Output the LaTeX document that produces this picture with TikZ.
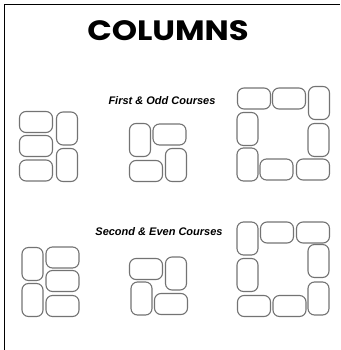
\documentclass[tikz,border=0pt]{standalone}
\usepackage{fontspec}
\setmainfont{Liberation Sans}
\newfontfamily\titlefont{Poppins}
\usetikzlibrary{positioning}

\begin{document}
\begin{tikzpicture}[x=1pt,y=-1pt,
   brk/.style={draw=black!55,line width=1.1pt,rounded corners=6.5pt,inner sep=0pt},
   str/.style={brk,minimum width=33pt,minimum height=21pt},
   hdr/.style={brk,minimum width=21pt,minimum height=33pt},
   sub/.style={font=\bfseries\itshape\fontsize{11}{13}\selectfont}]
  \useasboundingbox (0,0) rectangle (340,350);
  % frame
  \draw[line width=1.5pt] (4.5,350) -- (4.5,4.5) -- (340,4.5);
  \node[font=\titlefont\bfseries\fontsize{28}{30}\selectfont,xscale=1.15] (title) at (168,31) {COLUMNS};
  \node[sub] (odd) at (162,101) {First \& Odd Courses};
  \node[sub] (even) at (159,232) {Second \& Even Courses};
  % first & odd courses
  \node[str] (a1) at (36,122) {}; \node[str] (a2) at (36,146) {}; \node[str] (a3) at (36,170.5) {};
  \node[hdr] (a4) at (67,128.5) {}; \node[hdr] (a5) at (67,165) {};
  \node[hdr] (b1) at (140,140) {}; \node[str] (b2) at (169.5,134.5) {};
  \node[str] (b3) at (146,171) {}; \node[hdr] (b4) at (176,165) {};
  \node[str] (c1) at (254,98.5) {}; \node[str] (c2) at (289,98.5) {};
  \node[hdr] (c3) at (319,103) {}; \node[hdr] (c4) at (318.5,140) {};
  \node[hdr] (c5) at (247.5,129) {}; \node[hdr] (c6) at (247.5,164.5) {};
  \node[str] (c7) at (276.5,169.5) {}; \node[str] (c8) at (313,169.5) {};
  % second & even courses
  \node[hdr] (d1) at (32.5,264) {}; \node[hdr] (d2) at (32.5,300) {};
  \node[str] (d3) at (62.5,257.5) {}; \node[str] (d4) at (62.5,281) {}; \node[str] (d5) at (62.5,306) {};
  \node[str] (e1) at (146,269) {}; \node[hdr] (e2) at (176,273.5) {};
  \node[hdr] (e3) at (141.5,298.5) {}; \node[str] (e4) at (171,304) {};
  \node[hdr] (f1) at (247.5,238.5) {}; \node[hdr] (f2) at (247.5,275) {};
  \node[str] (f3) at (277,232.5) {}; \node[str] (f4) at (313,232.5) {};
  \node[hdr] (f5) at (318.5,261) {}; \node[hdr] (f6) at (318.5,298.5) {};
  \node[str] (f7) at (254,306) {}; \node[str] (f8) at (289.5,306) {};
\end{tikzpicture}
\end{document}
